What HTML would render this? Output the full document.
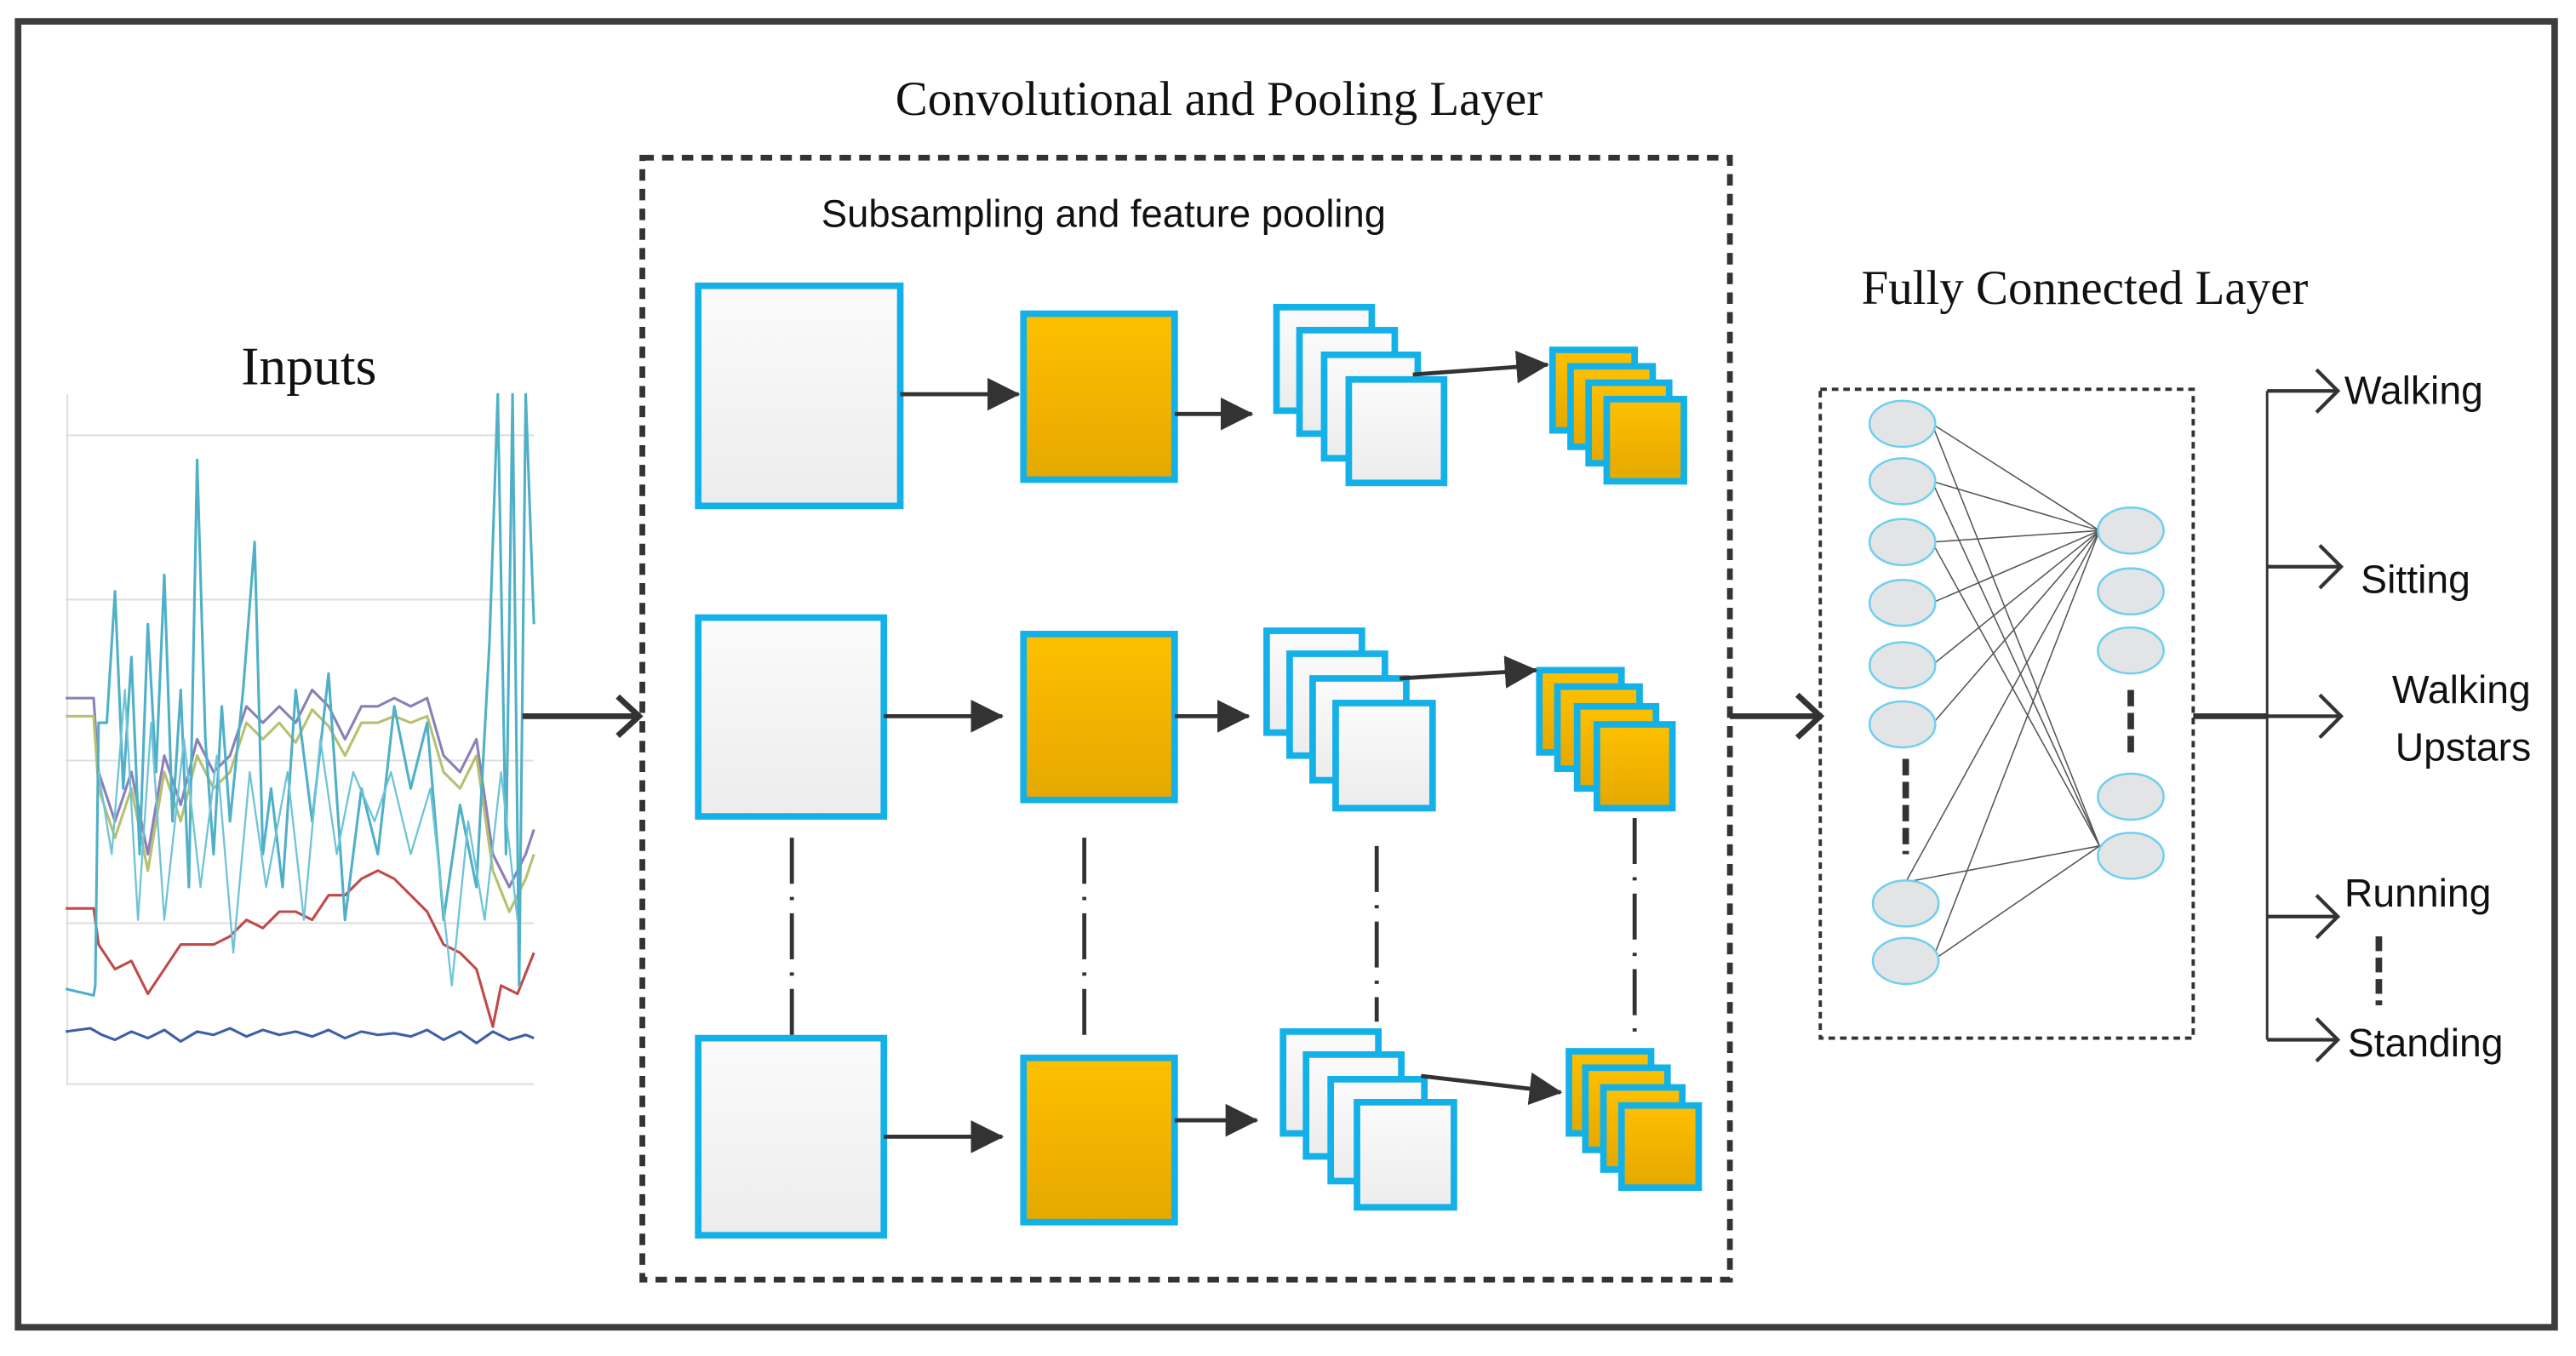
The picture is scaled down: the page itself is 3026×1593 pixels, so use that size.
<!DOCTYPE html>
<html><head><meta charset="utf-8"><style>
html,body{margin:0;padding:0;background:#fff;}
svg{display:block;}
.serif{font-family:"Liberation Serif",serif;fill:#111;}
.sans{font-family:"Liberation Sans",sans-serif;fill:#111;}
</style></head><body>
<svg width="3026" height="1593" viewBox="0 0 1568 825.5" preserveAspectRatio="none" xmlns="http://www.w3.org/2000/svg">
<defs>
<linearGradient id="wg" x1="0" y1="0" x2="0" y2="1"><stop offset="0" stop-color="#fbfbfb"/><stop offset="1" stop-color="#ececec"/></linearGradient>
<linearGradient id="og" x1="0" y1="0" x2="0" y2="1"><stop offset="0" stop-color="#fdc000"/><stop offset="1" stop-color="#e5a800"/></linearGradient>
<marker id="tri" markerWidth="20" markerHeight="20" refX="19" refY="10" orient="auto" markerUnits="userSpaceOnUse"><path d="M0,0 L20,10 L0,20 Z" fill="#333"/></marker>
</defs>
<rect x="0" y="0" width="1568" height="825.5" fill="#fff"/>
<rect x="11" y="13" width="1544" height="795" fill="none" stroke="#3d3d3d" stroke-width="4"/>

<text class="serif" x="742" y="70" font-size="29.5" text-anchor="middle">Convolutional and Pooling Layer</text>
<rect x="391" y="96" width="662" height="683" fill="none" stroke="#333" stroke-width="3.5" stroke-dasharray="7,5"/>
<text class="sans" x="500" y="138" font-size="23.5">Subsampling and feature pooling</text>

<text class="serif" x="188" y="234" font-size="33" text-anchor="middle">Inputs</text>
<g stroke="#ddd" stroke-width="1">
<line x1="40" y1="265" x2="325" y2="265"/><line x1="40" y1="365" x2="325" y2="365"/>
<line x1="40" y1="463" x2="325" y2="463"/><line x1="40" y1="562" x2="325" y2="562"/>
<line x1="40" y1="660" x2="325" y2="660"/><line x1="41" y1="240" x2="41" y2="660"/>
</g>
<g fill="none" stroke-width="1.6" stroke-linejoin="round">
<polyline stroke="#8a7fb8" points="40,425 57,425 60,470 70,500 80,470 90,520 100,460 110,490 120,450 130,470 140,460 150,430 160,440 170,430 180,440 190,420 200,430 210,450 220,430 230,430 240,425 250,430 260,425 270,460 280,470 290,450 300,520 310,540 320,520 325,505"/>
<polyline stroke="#b8c070" points="40,436 57,436 60,480 70,510 80,480 90,530 100,470 110,500 120,460 130,480 140,470 150,440 160,450 170,440 180,452 190,432 200,442 210,460 220,440 230,440 240,436 250,440 260,436 270,470 280,480 290,460 300,530 310,555 320,535 325,520"/>
<polyline stroke="#c04a4a" points="40,553 57,553 60,575 70,590 80,585 90,605 100,590 110,575 120,575 130,575 140,570 150,560 160,565 170,555 180,555 190,560 200,545 210,545 220,535 230,530 240,535 250,545 260,555 270,575 280,580 290,590 300,625 305,600 315,605 325,580"/>
<polyline stroke="#4fb0c8" points="40,602 57,606 58,600 60,440 65,440 70,360 75,480 80,400 85,520 90,380 95,470 100,350 105,500 110,420 115,540 120,280 125,450 130,520 135,430 140,500 148,420 155,330 160,520 165,480 172,540 180,420 190,500 200,410 210,560 220,480 230,520 240,430 250,480 260,440 270,560 280,490 290,540 298,390 303,240 308,520 312,240 316,600 320,240 325,380"/>
<polyline stroke="#6fc4d8" stroke-width="1.2" points="60,470 68,520 76,420 84,560 92,440 100,560 112,450 122,540 132,460 142,580 152,470 162,540 175,470 185,560 195,450 205,520 215,470 228,500 238,470 250,520 262,480 275,600 285,500 295,560 305,470 315,560"/>
<polyline stroke="#3d5fa8" points="40,628 55,626 62,630 70,633 80,628 90,632 100,627 110,634 120,628 130,630 140,626 150,631 160,627 170,630 180,628 190,631 200,627 210,632 220,628 230,630 240,629 250,631 260,627 270,633 280,628 290,635 300,628 310,633 320,630 325,632"/>
</g>
<line x1="318" y1="436" x2="388" y2="436" stroke="#333" stroke-width="3.5"/>
<polyline points="376,424 389,436 376,448" fill="none" stroke="#333" stroke-width="3.5"/>

<g stroke="#14b0e8" stroke-width="4">
<rect x="425" y="174" width="123" height="134" fill="url(#wg)"/>
<rect x="623" y="191" width="92" height="101" fill="url(#og)"/>
<rect x="777" y="187" width="58" height="63" fill="url(#wg)"/>
<rect x="791" y="201" width="58" height="63" fill="url(#wg)"/>
<rect x="806" y="216" width="57" height="63" fill="url(#wg)"/>
<rect x="821" y="231" width="58" height="63" fill="url(#wg)"/>
<rect x="945" y="213" width="50" height="49" fill="url(#og)"/>
<rect x="956" y="223" width="50" height="49" fill="url(#og)"/>
<rect x="967" y="233" width="49" height="49" fill="url(#og)"/>
<rect x="978" y="243" width="47" height="50" fill="url(#og)"/>
<rect x="425" y="376" width="113" height="121" fill="url(#wg)"/>
<rect x="623" y="386" width="92" height="101" fill="url(#og)"/>
<rect x="771" y="384" width="58" height="62" fill="url(#wg)"/>
<rect x="785" y="398" width="58" height="62" fill="url(#wg)"/>
<rect x="799" y="413" width="57" height="62" fill="url(#wg)"/>
<rect x="813" y="428" width="59" height="64" fill="url(#wg)"/>
<rect x="937" y="408" width="50" height="50" fill="url(#og)"/>
<rect x="948" y="418" width="50" height="50" fill="url(#og)"/>
<rect x="960" y="430" width="48" height="50" fill="url(#og)"/>
<rect x="972" y="441" width="46" height="51" fill="url(#og)"/>
<rect x="425" y="632" width="113" height="120" fill="url(#wg)"/>
<rect x="623" y="644" width="92" height="100" fill="url(#og)"/>
<rect x="781" y="628" width="58" height="62" fill="url(#wg)"/>
<rect x="795" y="642" width="58" height="62" fill="url(#wg)"/>
<rect x="810" y="657" width="57" height="62" fill="url(#wg)"/>
<rect x="826" y="671" width="59" height="64" fill="url(#wg)"/>
<rect x="955" y="640" width="50" height="50" fill="url(#og)"/>
<rect x="965" y="650" width="50" height="50" fill="url(#og)"/>
<rect x="976" y="662" width="48" height="50" fill="url(#og)"/>
<rect x="987" y="673" width="47" height="50" fill="url(#og)"/>
</g>
<g stroke="#333" stroke-width="2.5" marker-end="url(#tri)">
<line x1="548" y1="240" x2="620" y2="240"/>
<line x1="715" y1="252" x2="762" y2="252"/>
<line x1="860" y1="228" x2="942" y2="222"/>
<line x1="538" y1="436" x2="610" y2="436"/>
<line x1="715" y1="436" x2="760" y2="436"/>
<line x1="852" y1="413" x2="935" y2="408"/>
<line x1="538" y1="692" x2="610" y2="692"/>
<line x1="715" y1="682" x2="765" y2="682"/>
<line x1="865" y1="655" x2="950" y2="665"/>
</g>
<g stroke="#333" stroke-width="2.5" stroke-dasharray="28,8,2,8">
<line x1="482" y1="510" x2="482" y2="632"/>
<line x1="660" y1="510" x2="660" y2="636"/>
<line x1="838" y1="515" x2="838" y2="622"/>
<line x1="995" y1="498" x2="995" y2="632"/>
</g>

<line x1="1053" y1="436" x2="1108" y2="436" stroke="#333" stroke-width="3.5"/>
<polyline points="1094,423 1108,436 1094,449" fill="none" stroke="#333" stroke-width="3.5"/>

<text class="serif" x="1269" y="185" font-size="29.5" text-anchor="middle">Fully Connected Layer</text>
<rect x="1108" y="237" width="227" height="395" fill="none" stroke="#333" stroke-width="2" stroke-dasharray="4,3"/>
<g stroke="#555" stroke-width="0.8">
<line x1="1176" y1="258" x2="1278" y2="323"/><line x1="1176" y1="293" x2="1278" y2="323"/>
<line x1="1176" y1="330" x2="1278" y2="323"/><line x1="1176" y1="367" x2="1278" y2="323"/>
<line x1="1176" y1="405" x2="1278" y2="323"/><line x1="1176" y1="441" x2="1278" y2="323"/>
<line x1="1160" y1="537" x2="1278" y2="323"/><line x1="1176" y1="585" x2="1278" y2="323"/>
<line x1="1176" y1="258" x2="1278" y2="515"/><line x1="1176" y1="293" x2="1278" y2="515"/>
<line x1="1176" y1="330" x2="1278" y2="515"/>
<line x1="1160" y1="537" x2="1278" y2="515"/><line x1="1176" y1="585" x2="1278" y2="515"/>
</g>
<g fill="#e2e4e6" stroke="#6fd0ee" stroke-width="1.3">
<ellipse cx="1158" cy="258" rx="20" ry="14"/><ellipse cx="1158" cy="293" rx="20" ry="14"/>
<ellipse cx="1158" cy="330" rx="20" ry="14"/><ellipse cx="1158" cy="367" rx="20" ry="14"/>
<ellipse cx="1158" cy="405" rx="20" ry="14"/><ellipse cx="1158" cy="441" rx="20" ry="14"/>
<ellipse cx="1160" cy="550" rx="20" ry="14"/><ellipse cx="1160" cy="585" rx="20" ry="14"/>
<ellipse cx="1297" cy="323" rx="20" ry="14"/><ellipse cx="1297" cy="360" rx="20" ry="14"/>
<ellipse cx="1297" cy="396" rx="20" ry="14"/><ellipse cx="1297" cy="485" rx="20" ry="14"/>
<ellipse cx="1297" cy="521" rx="20" ry="14"/>
</g>
<line x1="1160" y1="462" x2="1160" y2="520" stroke="#333" stroke-width="4" stroke-dasharray="10,4"/>
<line x1="1297" y1="420" x2="1297" y2="462" stroke="#333" stroke-width="4" stroke-dasharray="10,4"/>

<g stroke="#333" fill="none">
<line x1="1335" y1="436" x2="1380" y2="436" stroke-width="3.5"/>
<line x1="1380" y1="238" x2="1380" y2="633" stroke-width="1.5"/>
<g stroke-width="2.2">
<line x1="1380" y1="238" x2="1423" y2="238"/><polyline points="1410,225 1423,238 1410,251"/>
<line x1="1380" y1="345" x2="1425" y2="345"/><polyline points="1412,332 1425,345 1412,358"/>
<line x1="1380" y1="436" x2="1425" y2="436"/><polyline points="1412,423 1425,436 1412,449"/>
<line x1="1380" y1="558" x2="1423" y2="558"/><polyline points="1410,545 1423,558 1410,571"/>
<line x1="1380" y1="633" x2="1423" y2="633"/><polyline points="1410,620 1423,633 1410,646"/>
</g>
<line x1="1448" y1="570" x2="1448" y2="612" stroke-width="4" stroke-dasharray="9,4"/>
</g>
<g class="sans" font-size="24">
<text x="1427" y="246">Walking</text>
<text x="1437" y="361">Sitting</text>
<text x="1456" y="428">Walking</text>
<text x="1458" y="463">Upstars</text>
<text x="1427" y="552">Running</text>
<text x="1429" y="643">Standing</text>
</g>
</svg>
</body></html>
